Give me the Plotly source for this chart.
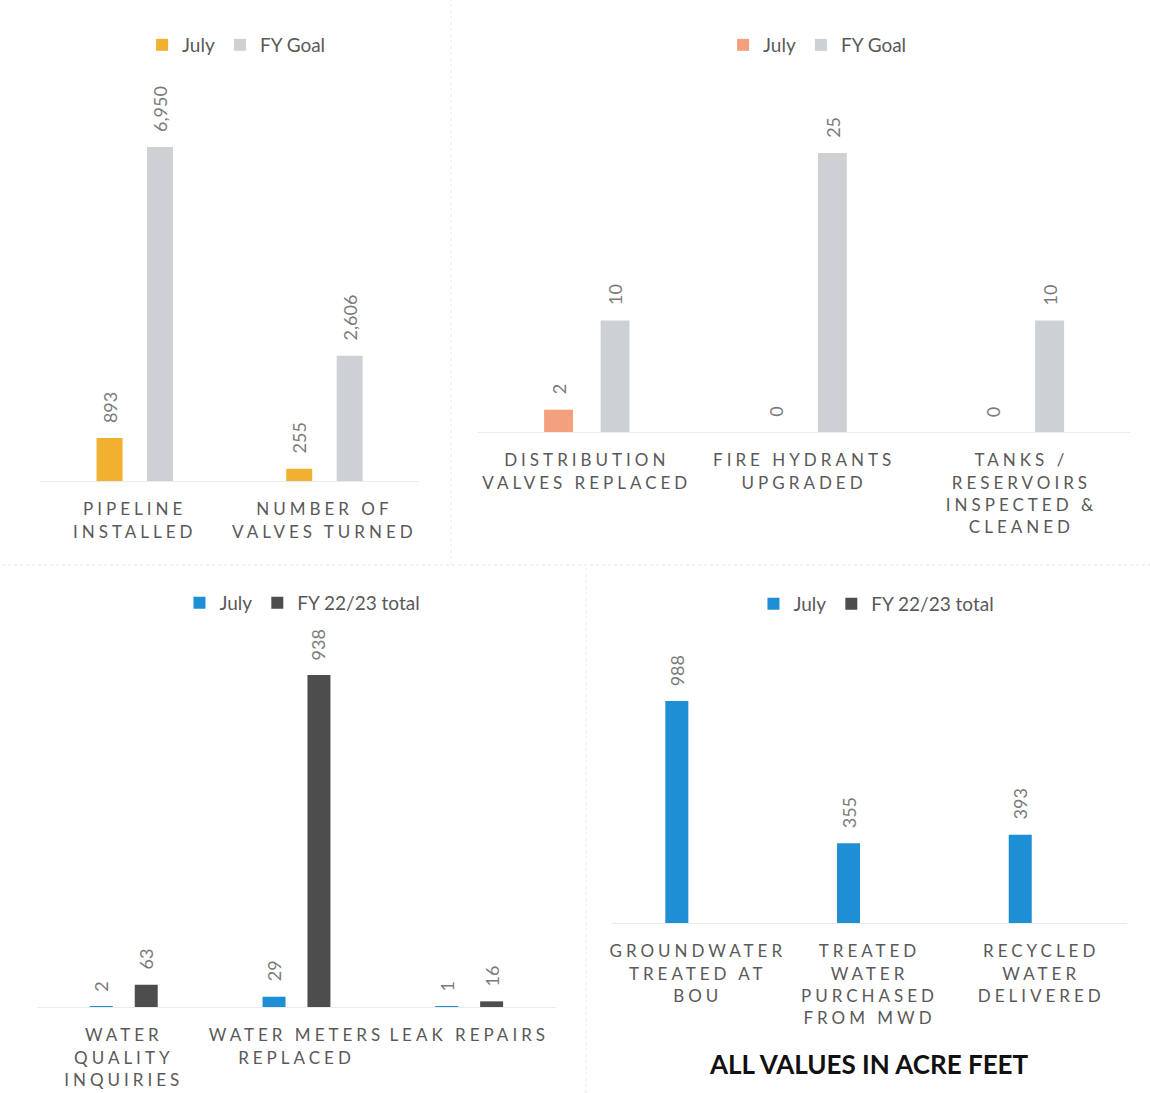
import plotly.graph_objects as go

W, H = 1150, 1093

# ---------------- data ----------------
p1_categories = ["PIPELINE<br>INSTALLED", "NUMBER OF<br>VALVES TURNED"]
p1_july = [893, 255]
p1_goal = [6950, 2606]
p1_series = ["July", "FY Goal"]

p2_categories = ["DISTRIBUTION<br>VALVES REPLACED", "FIRE HYDRANTS<br>UPGRADED",
                 "TANKS /<br>RESERVOIRS<br>INSPECTED &amp;<br>CLEANED"]
p2_july = [2, 0, 0]
p2_goal = [10, 25, 10]
p2_series = ["July", "FY Goal"]

p3_categories = ["WATER<br>QUALITY<br>INQUIRIES", "WATER METERS<br>REPLACED", "LEAK REPAIRS"]
p3_july = [2, 29, 1]
p3_total = [63, 938, 16]
p3_series = ["July", "FY 22/23 total"]

p4_categories = ["GROUNDWATER<br>TREATED AT<br>BOU", "TREATED<br>WATER<br>PURCHASED<br>FROM MWD",
                 "RECYCLED<br>WATER<br>DELIVERED"]
p4_july = [988, 355, 393]
p4_total = [None, None, None]
p4_series = ["July", "FY 22/23 total"]

title_text = "ALL VALUES IN ACRE FEET"

# ---------------- style ----------------
ORANGE = "#F0B030"
SALMON = "#F2A07E"
LGRAY = "#CDD1D4"
BLUE = "#1E8FD5"
DGRAY = "#4D4D4D"

LABEL_FONT = "Lato"
TXT = "#595959"


def spaced(label, px=4):
    lines = label.split("<br>")
    return "<br>".join(f'<span style="letter-spacing:{px}px">{ln}</span>' for ln in lines)


def fx(px):
    return px / W


def fy(py):
    return 1 - py / H


fig = go.Figure()

panels = [
    dict(cats=p1_categories, vals=[p1_july, p1_goal], names=p1_series, colors=[ORANGE, LGRAY],
         xd=(38, 418), yb=481, yt=100, ymax=6950 * 381 / 334, width=0.137, offs=[-0.2015, 0.0645],
         leg=(235, 45)),
    dict(cats=p2_categories, vals=[p2_july, p2_goal], names=p2_series, colors=[SALMON, LGRAY],
         xd=(477, 1130), yb=432, yt=100, ymax=332 / 11.16, width=0.133, offs=[-0.1965, 0.0635],
         leg=(817, 45)),
    dict(cats=p3_categories, vals=[p3_july, p3_total], names=p3_series, colors=[BLUE, DGRAY],
         xd=(35.5, 554.5), yb=1007, yt=640, ymax=367 / 0.354, width=0.133, offs=[-0.1965, 0.0635],
         leg=(301, 603)),
    dict(cats=p4_categories, vals=[p4_july, p4_total], names=p4_series, colors=[BLUE, DGRAY],
         xd=(611, 1127), yb=923, yt=640, ymax=283 / 0.2247, width=0.134, offs=[-0.189, 0.055],
         leg=(876, 604)),
]

layout_extra = {}
annotations = []
for i, p in enumerate(panels, start=1):
    sfx = "" if i == 1 else str(i)
    legname = "legend" + sfx
    n = len(p["cats"])
    xs = list(range(n))
    for s in range(2):
        vals = p["vals"][s]
        fig.add_trace(go.Bar(
            x=xs, y=vals, name=p["names"][s],
            xaxis="x" + sfx, yaxis="y" + sfx, legend=legname,
            marker=dict(color=p["colors"][s], line=dict(width=0)),
            width=p["width"], offset=p["offs"][s],
            showlegend=True, hoverinfo="y",
        ))
        # value labels above bars
        for xi, v in zip(xs, vals):
            if v is None:
                continue
            annotations.append(dict(
                x=xi + p["offs"][s] + p["width"] / 2, y=v,
                xref="x" + sfx, yref="y" + sfx,
                text=f"{v:,}", textangle=-90, showarrow=False,
                xanchor="center", yanchor="bottom", yshift=13,
                font=dict(family=LABEL_FONT, size=18, color="#7A7A7A"),
            ))
    layout_extra["xaxis" + sfx] = dict(
        domain=[fx(p["xd"][0]), fx(p["xd"][1])], range=[-0.5, n - 0.5],
        anchor="y" + sfx, tickvals=xs, ticktext=[spaced(c) for c in p["cats"]],
        tickfont=dict(family=LABEL_FONT, size=17, color=TXT), ticklabelstandoff=13,
        showline=True, linecolor="#EBEBEB", linewidth=1, ticks="", showgrid=False,
        zeroline=False, fixedrange=True,
    )
    layout_extra["yaxis" + sfx] = dict(
        domain=[fy(p["yb"]), fy(p["yt"])], range=[0, p["ymax"]], anchor="x" + sfx,
        visible=False, showgrid=False, zeroline=False, fixedrange=True,
    )
    layout_extra[legname] = dict(
        orientation="h", x=fx(p["leg"][0]), y=fy(p["leg"][1]), xanchor="center", yanchor="middle",
        font=dict(family=LABEL_FONT, size=19, color=TXT), bgcolor="rgba(0,0,0,0)",
        itemwidth=30, itemclick=False, itemdoubleclick=False,
    )

fig.update_layout(**layout_extra)

annotations.append(dict(
    text=f"<b>{title_text}</b>", x=fx(869), y=fy(1064), xref="paper", yref="paper",
    xanchor="center", yanchor="middle", showarrow=False,
    font=dict(family="Lato", size=26, color="#111111"),
))

fig.update_layout(
    width=W, height=H, margin=dict(l=0, r=0, t=0, b=0),
    paper_bgcolor="white", plot_bgcolor="white", barmode="group",
    annotations=annotations,
    shapes=[
        dict(type="line", xref="paper", yref="paper", x0=0, x1=1, y0=fy(565), y1=fy(565),
             line=dict(color="#E4E4E4", width=1, dash="dot")),
        dict(type="line", xref="paper", yref="paper", x0=fx(450), x1=fx(450), y0=fy(565), y1=1,
             line=dict(color="#EAEAEA", width=1, dash="dot")),
        dict(type="line", xref="paper", yref="paper", x0=fx(585), x1=fx(585), y0=0, y1=fy(565),
             line=dict(color="#EAEAEA", width=1, dash="dot")),
    ],
)

fig.write_html("out.html", config={"displayModeBar": False},
               post_script="document.body.style.margin='0';")
